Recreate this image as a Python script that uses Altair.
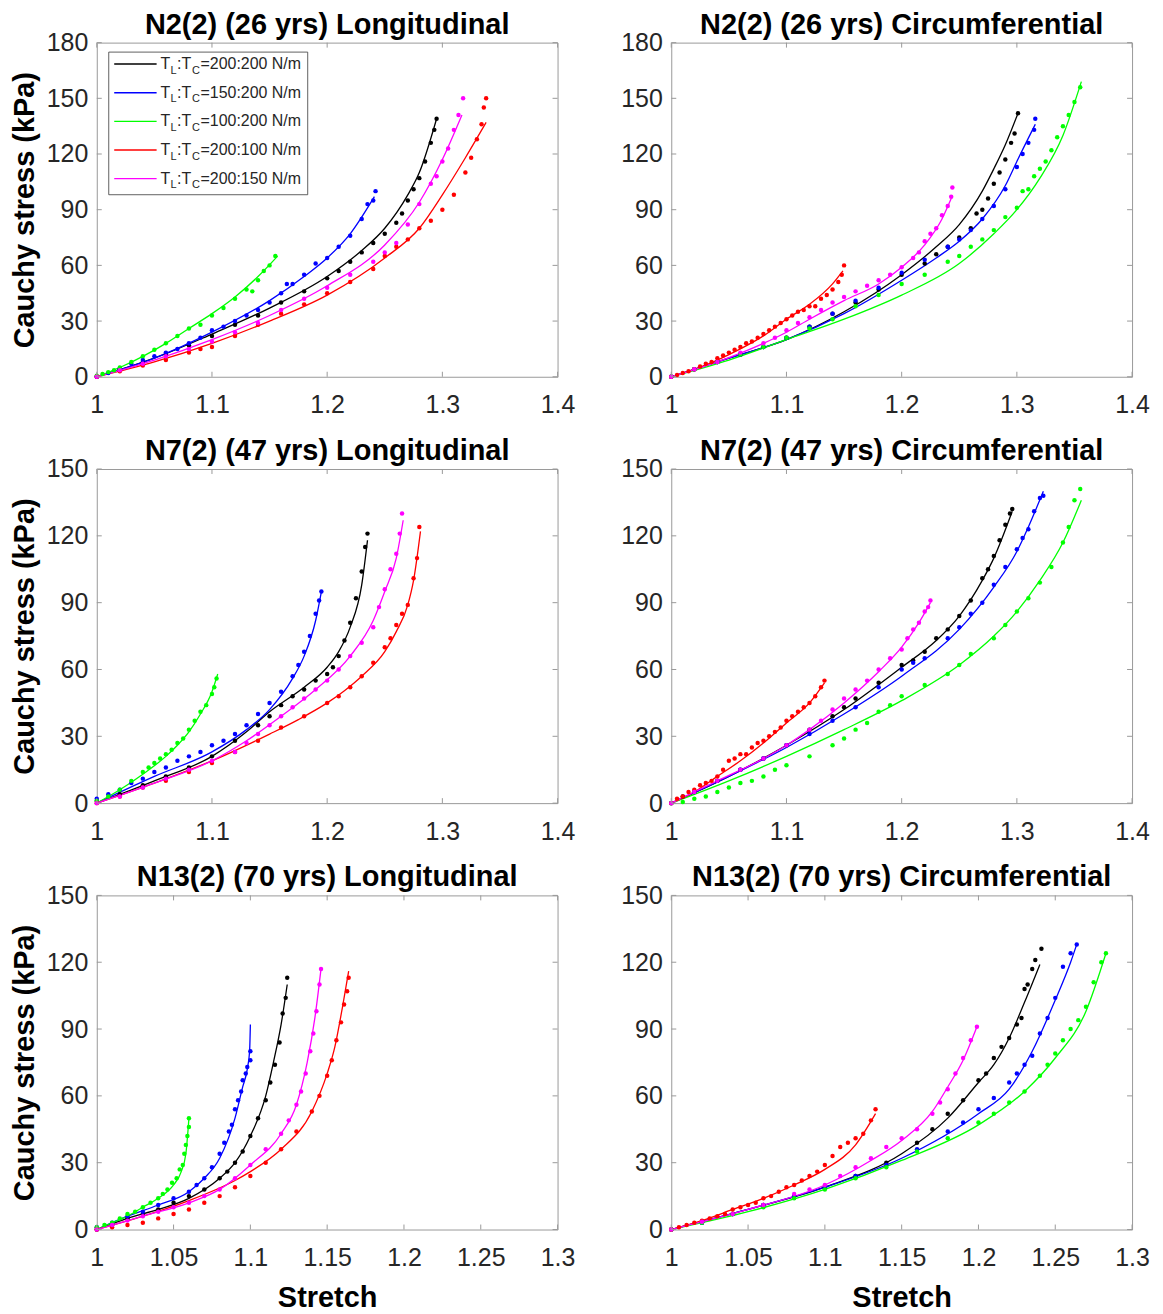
import altair as alt
import pandas as pd

# ---------------- categories, labels, ticks ----------------
SERIES = ["200:200", "150:200", "100:200", "200:100", "200:150"]
SERIES_COLORS = ["#000000", "#0000ff", "#00ff00", "#ff0000", "#ff00ff"]
PANEL_TITLES = [
    "N2(2) (26 yrs) Longitudinal", "N2(2) (26 yrs) Circumferential",
    "N7(2) (47 yrs) Longitudinal", "N7(2) (47 yrs) Circumferential",
    "N13(2) (70 yrs) Longitudinal", "N13(2) (70 yrs) Circumferential",
]
X_TICKS_WIDE = [1.0, 1.1, 1.2, 1.3, 1.4]
X_TICKS_NARROW = [1.0, 1.05, 1.1, 1.15, 1.2, 1.25, 1.3]
Y_TICKS_180 = [0, 30, 60, 90, 120, 150, 180]
Y_TICKS_150 = [0, 30, 60, 90, 120, 150]
Y_TITLE = "Cauchy stress (kPa)"
X_TITLE = "Stretch"

# ---------------- Panel A: N2 Longitudinal ----------------
A_BLK_LX = [1.0, 1.05, 1.10, 1.15, 1.20, 1.23, 1.25, 1.27, 1.28, 1.295]
A_BLK_LY = [0, 10, 23, 37, 54, 68, 80, 98, 110, 139]
A_BLK_DX = [1.0, 1.02, 1.04, 1.06, 1.08, 1.10, 1.12, 1.14, 1.16, 1.18, 1.20, 1.21, 1.22, 1.23, 1.24, 1.25, 1.26, 1.265, 1.27, 1.275, 1.28, 1.285, 1.29, 1.293, 1.295]
A_BLK_DY = [0, 4, 8, 12, 17, 22, 28, 33, 40, 46, 53, 57, 62, 67, 72, 77, 83, 88, 95, 101, 107, 116, 126, 133, 139]
A_BLU_LX = [1.0, 1.05, 1.10, 1.15, 1.18, 1.20, 1.22, 1.241]
A_BLU_LY = [0, 10, 24, 41, 54, 64, 77, 97]
A_BLU_DX = [1.0, 1.01, 1.02, 1.03, 1.04, 1.05, 1.06, 1.07, 1.08, 1.09, 1.10, 1.11, 1.12, 1.13, 1.14, 1.15, 1.16, 1.165, 1.17, 1.18, 1.19, 1.20, 1.21, 1.22, 1.23, 1.235, 1.24, 1.242]
A_BLU_DY = [0, 2, 4.5, 7, 9, 11, 13, 15, 18, 21, 25, 27, 30, 33, 36, 40, 45, 50, 50, 55, 61, 64, 70, 76, 85, 93, 95, 100]
A_GRN_LX = [1.0, 1.02, 1.04, 1.06, 1.08, 1.10, 1.12, 1.14, 1.157]
A_GRN_LY = [0, 5, 11, 18, 26, 34, 43, 54, 65]
A_GRN_DX = [1.0, 1.005, 1.01, 1.015, 1.02, 1.03, 1.04, 1.05, 1.06, 1.07, 1.08, 1.09, 1.10, 1.11, 1.12, 1.13, 1.135, 1.14, 1.145, 1.15, 1.155]
A_GRN_DY = [0.5, 1.5, 2.5, 3.5, 5, 8, 11, 14.5, 18, 22, 26, 28, 33, 37, 42, 47, 46, 52, 57, 60, 65]
A_RED_LX = [1.0, 1.05, 1.10, 1.15, 1.20, 1.25, 1.28, 1.30, 1.32, 1.338]
A_RED_LY = [0, 8, 18, 30, 44, 64, 80, 98, 118, 137]
A_RED_DX = [1.0, 1.02, 1.04, 1.06, 1.08, 1.09, 1.10, 1.12, 1.14, 1.16, 1.18, 1.20, 1.22, 1.24, 1.25, 1.26, 1.27, 1.28, 1.29, 1.30, 1.31, 1.32, 1.325, 1.33, 1.334, 1.336, 1.338]
A_RED_DY = [0, 3, 6, 9, 13, 15, 16, 22, 28, 34, 39, 45, 51, 58, 65, 70, 74, 80, 84, 90, 98, 110, 118, 128, 136, 145, 150]
A_MAG_LX = [1.0, 1.05, 1.10, 1.15, 1.20, 1.25, 1.28, 1.30, 1.317]
A_MAG_LY = [0, 9, 20, 33, 49, 71, 94, 117, 141]
A_MAG_DX = [1.0, 1.02, 1.04, 1.06, 1.08, 1.10, 1.12, 1.14, 1.16, 1.18, 1.20, 1.22, 1.24, 1.25, 1.26, 1.27, 1.28, 1.29, 1.295, 1.30, 1.305, 1.31, 1.314, 1.318]
A_MAG_DY = [0, 3.5, 7, 11, 15, 19, 24, 29, 36, 42, 48, 55, 62, 67, 72, 82, 93, 104, 108, 116, 123, 133, 141, 150]

# ---------------- Panel B: N2 Circumferential ----------------
B_BLK_LX = [1.0, 1.05, 1.10, 1.15, 1.20, 1.23, 1.25, 1.27, 1.28, 1.29, 1.301]
B_BLK_LY = [0, 10, 20, 35, 55, 70, 82, 100, 112, 125, 142]
B_BLK_DX = [1.0, 1.02, 1.04, 1.06, 1.08, 1.10, 1.12, 1.14, 1.16, 1.18, 1.20, 1.22, 1.23, 1.24, 1.25, 1.26, 1.265, 1.27, 1.275, 1.28, 1.285, 1.29, 1.295, 1.298, 1.301]
B_BLK_DY = [0, 4, 8, 12, 16, 21, 27, 34, 40, 47, 55, 61, 66, 70, 75, 80, 88, 90, 96, 104, 110, 117, 126, 131, 142]
B_BLU_LX = [1.0, 1.05, 1.10, 1.15, 1.20, 1.23, 1.25, 1.27, 1.29, 1.30, 1.316]
B_BLU_LY = [0, 10, 20, 34, 52, 64, 73, 85, 103, 116, 136]
B_BLU_DX = [1.0, 1.02, 1.04, 1.06, 1.08, 1.10, 1.12, 1.14, 1.16, 1.18, 1.20, 1.22, 1.24, 1.25, 1.26, 1.27, 1.28, 1.29, 1.30, 1.305, 1.31, 1.315, 1.316]
B_BLU_DY = [0, 4, 8, 12, 16, 21, 27, 34, 41, 48, 56, 63, 70, 74, 79, 85, 92, 101, 113, 120, 126, 133, 139]
B_GRN_LX = [1.0, 1.05, 1.10, 1.15, 1.20, 1.25, 1.28, 1.30, 1.32, 1.34, 1.356]
B_GRN_LY = [0, 9, 20, 31, 44, 61, 77, 90, 107, 130, 159]
B_GRN_DX = [1.0, 1.02, 1.04, 1.06, 1.08, 1.10, 1.12, 1.14, 1.16, 1.18, 1.20, 1.22, 1.24, 1.25, 1.26, 1.27, 1.28, 1.29, 1.30, 1.305, 1.31, 1.315, 1.32, 1.325, 1.33, 1.335, 1.34, 1.345, 1.35, 1.355]
B_GRN_DY = [0, 4, 8, 12, 16, 21, 26, 31, 38, 44, 50, 55, 62, 65, 70, 74, 79, 86, 91, 100, 101, 108, 112, 116, 122, 129, 135, 141, 148, 156]
B_RED_LX = [1.0, 1.02, 1.04, 1.06, 1.08, 1.10, 1.12, 1.14, 1.149]
B_RED_LY = [0, 4, 9, 15, 22, 31, 39, 50, 57]
B_RED_DX = [1.0, 1.005, 1.01, 1.015, 1.02, 1.025, 1.03, 1.035, 1.04, 1.045, 1.05, 1.055, 1.06, 1.065, 1.07, 1.075, 1.08, 1.085, 1.09, 1.095, 1.10, 1.105, 1.11, 1.115, 1.12, 1.125, 1.13, 1.135, 1.14, 1.145, 1.148, 1.15]
B_RED_DY = [0, 1, 2, 3, 4, 5.5, 7, 8, 10, 11.5, 13, 14.5, 16, 18, 19, 21, 23, 25, 27, 29, 31, 33, 35, 36, 38, 38, 42, 44, 47, 51, 55, 60]
B_MAG_LX = [1.0, 1.04, 1.08, 1.10, 1.12, 1.15, 1.18, 1.20, 1.22, 1.235, 1.243]
B_MAG_LY = [0, 8, 18, 24, 31, 41, 50, 59, 71, 85, 96]
B_MAG_DX = [1.0, 1.02, 1.04, 1.06, 1.08, 1.09, 1.10, 1.11, 1.12, 1.13, 1.14, 1.15, 1.16, 1.17, 1.18, 1.19, 1.20, 1.21, 1.215, 1.22, 1.225, 1.23, 1.235, 1.24, 1.243, 1.244]
B_MAG_DY = [0, 4, 8, 13, 18, 21, 25, 29, 32, 36, 40, 43, 46, 49, 52, 55, 59, 64, 67, 73, 77, 80, 87, 92, 97, 102]

# ---------------- Panel C: N7 Longitudinal ----------------
C_BLK_LX = [1.0, 1.05, 1.10, 1.13, 1.15, 1.18, 1.20, 1.21, 1.22, 1.23, 1.235]
C_BLK_LY = [0, 10, 21, 32, 41, 52, 61, 68, 79, 98, 118]
C_BLK_DX = [1.0, 1.02, 1.04, 1.06, 1.08, 1.10, 1.12, 1.14, 1.15, 1.16, 1.17, 1.18, 1.19, 1.20, 1.205, 1.21, 1.215, 1.22, 1.225, 1.23, 1.233, 1.235]
C_BLK_DY = [1, 4, 8, 12, 16, 21, 28, 35, 39, 44, 48, 51, 55, 58, 61, 66, 73, 81, 92, 104, 115, 121]
C_BLU_LX = [1.0, 1.05, 1.10, 1.13, 1.15, 1.17, 1.18, 1.19, 1.195]
C_BLU_LY = [0, 12, 23, 33, 42, 56, 66, 82, 95]
C_BLU_DX = [1.0, 1.01, 1.02, 1.03, 1.04, 1.05, 1.06, 1.07, 1.08, 1.09, 1.10, 1.11, 1.12, 1.13, 1.14, 1.15, 1.16, 1.17, 1.175, 1.18, 1.185, 1.19, 1.193, 1.195]
C_BLU_DY = [2, 4, 6, 9, 11, 14, 16, 19, 21, 23, 26, 28, 31, 35, 40, 45, 50, 57, 62, 68, 75, 85, 91, 95]
C_GRN_LX = [1.0, 1.02, 1.04, 1.06, 1.07, 1.08, 1.09, 1.10, 1.105]
C_GRN_LY = [0, 6, 13, 21, 26, 32, 40, 50, 58]
C_GRN_DX = [1.0, 1.01, 1.02, 1.03, 1.04, 1.045, 1.05, 1.055, 1.06, 1.065, 1.07, 1.075, 1.08, 1.085, 1.09, 1.095, 1.10, 1.102, 1.104]
C_GRN_DY = [1, 3, 6, 10, 14, 16, 18, 20, 22, 24, 27, 29, 33, 37, 41, 44, 49, 52, 56]
C_RED_LX = [1.0, 1.05, 1.10, 1.15, 1.175, 1.20, 1.215, 1.23, 1.25, 1.26, 1.27, 1.275, 1.281]
C_RED_LY = [0, 9, 19, 31, 37.5, 45, 50.5, 57, 68, 77, 89, 100, 122]
C_RED_DX = [1.0, 1.02, 1.04, 1.06, 1.08, 1.10, 1.12, 1.14, 1.16, 1.18, 1.20, 1.21, 1.22, 1.23, 1.24, 1.25, 1.255, 1.26, 1.265, 1.27, 1.275, 1.278, 1.28]
C_RED_DY = [0, 3, 7, 10, 14, 18, 23, 28, 34, 39, 45, 48, 52, 57, 63, 70, 74, 80, 85, 89, 101, 110, 124]
C_MAG_LX = [1.0, 1.05, 1.10, 1.13, 1.16, 1.19, 1.22, 1.24, 1.25, 1.26, 1.266]
C_MAG_LY = [0, 9, 19, 28, 39, 51, 66, 82, 95, 110, 127]
C_MAG_DX = [1.0, 1.02, 1.04, 1.06, 1.08, 1.10, 1.12, 1.13, 1.14, 1.15, 1.16, 1.17, 1.18, 1.19, 1.20, 1.21, 1.22, 1.23, 1.24, 1.245, 1.25, 1.255, 1.26, 1.263, 1.265]
C_MAG_DY = [0, 3, 7, 11, 15, 19, 23, 27, 31, 35, 39, 43, 47, 51, 55, 60, 66, 72, 79, 88, 96, 105, 112, 121, 130]

# ---------------- Panel D: N7 Circumferential ----------------
D_BLK_LX = [1.0, 1.05, 1.10, 1.15, 1.20, 1.23, 1.25, 1.27, 1.28, 1.296]
D_BLK_LY = [0, 12, 26, 42, 61, 73, 84, 100, 110, 131]
D_BLK_DX = [1.0, 1.01, 1.02, 1.04, 1.06, 1.08, 1.10, 1.12, 1.14, 1.15, 1.16, 1.18, 1.20, 1.21, 1.22, 1.23, 1.24, 1.25, 1.26, 1.27, 1.275, 1.28, 1.285, 1.29, 1.294, 1.296]
D_BLK_DY = [0, 3, 5, 10, 15, 20, 26, 33, 39, 43, 47, 54, 62, 64, 68, 74, 78, 84, 91, 101, 105, 111, 118, 125, 130, 132]
D_BLU_LX = [1.0, 1.05, 1.10, 1.15, 1.20, 1.25, 1.28, 1.30, 1.31, 1.323]
D_BLU_LY = [0, 12, 25, 40, 57, 78, 97, 113, 124, 140]
D_BLU_DX = [1.0, 1.02, 1.04, 1.06, 1.08, 1.10, 1.12, 1.14, 1.16, 1.18, 1.20, 1.21, 1.22, 1.24, 1.25, 1.26, 1.27, 1.28, 1.29, 1.30, 1.305, 1.31, 1.315, 1.32, 1.323]
D_BLU_DY = [0, 5, 10, 15, 20, 26, 31, 37, 43, 52, 60, 63, 65, 74, 79, 85, 90, 98, 106, 114, 119, 123, 131, 137, 138]
D_GRN_LX = [1.0, 1.05, 1.10, 1.15, 1.20, 1.25, 1.28, 1.30, 1.32, 1.34, 1.356]
D_GRN_LY = [0, 10, 21, 33, 46, 62, 75, 86, 100, 117, 136]
D_GRN_DX = [1.0, 1.01, 1.02, 1.03, 1.04, 1.05, 1.06, 1.07, 1.08, 1.09, 1.10, 1.12, 1.14, 1.15, 1.16, 1.17, 1.18, 1.19, 1.20, 1.22, 1.24, 1.25, 1.26, 1.28, 1.29, 1.30, 1.31, 1.32, 1.33, 1.34, 1.345, 1.35, 1.355]
D_GRN_DY = [0, 0.5, 2, 3, 5, 7, 9, 10, 12, 15, 17, 21, 26, 29, 33, 36, 41, 44, 48, 53, 58, 62, 67, 74, 80, 86, 92, 99, 106, 117, 124, 136, 141]
D_RED_LX = [1.0, 1.02, 1.04, 1.06, 1.08, 1.10, 1.12, 1.133]
D_RED_LY = [0, 5, 12, 19, 27, 36, 45, 54]
D_RED_DX = [1.0, 1.005, 1.01, 1.015, 1.02, 1.025, 1.03, 1.035, 1.04, 1.045, 1.05, 1.055, 1.06, 1.065, 1.07, 1.075, 1.08, 1.085, 1.09, 1.095, 1.10, 1.105, 1.11, 1.115, 1.12, 1.125, 1.13, 1.133]
D_RED_DY = [0, 2, 3, 5, 6, 8, 9, 10, 12, 15, 19, 20, 22, 22, 25, 27, 28, 30, 32, 34, 37, 39, 41, 43, 45, 48, 52, 55]
D_MAG_LX = [1.0, 1.04, 1.08, 1.10, 1.12, 1.15, 1.18, 1.20, 1.215, 1.225]
D_MAG_LY = [0, 10, 20, 26, 33, 45, 59, 70, 81, 90]
D_MAG_DX = [1.0, 1.02, 1.04, 1.06, 1.08, 1.10, 1.12, 1.13, 1.14, 1.15, 1.16, 1.17, 1.18, 1.19, 1.20, 1.205, 1.21, 1.215, 1.22, 1.223, 1.225]
D_MAG_DY = [0, 5, 10, 15, 20, 26, 33, 37, 42, 47, 51, 55, 60, 65, 69, 74, 78, 81, 86, 88, 91]

# ---------------- Panel E: N13 Longitudinal ----------------
E_BLK_LX = [1.0, 1.02, 1.04, 1.06, 1.08, 1.09, 1.10, 1.11, 1.115, 1.12, 1.124]
E_BLK_LY = [0, 5, 9, 14, 23, 30, 42, 60, 75, 92, 110]
E_BLK_DX = [1.0, 1.01, 1.02, 1.03, 1.04, 1.05, 1.06, 1.07, 1.08, 1.085, 1.09, 1.095, 1.1, 1.105, 1.11, 1.113, 1.116, 1.119, 1.121, 1.123, 1.124]
E_BLK_DY = [0, 2, 5, 7, 9, 12, 15, 18, 23, 26, 30, 35, 42, 50, 58, 66, 74, 84, 97, 104, 113]
E_BLU_LX = [1.0, 1.02, 1.04, 1.06, 1.07, 1.08, 1.09, 1.095, 1.098, 1.0995, 1.1]
E_BLU_LY = [0, 6, 11, 17, 23, 32, 50, 64, 72, 80, 92]
E_BLU_DX = [1.0, 1.01, 1.02, 1.03, 1.04, 1.05, 1.06, 1.065, 1.07, 1.075, 1.08, 1.083, 1.086, 1.088, 1.09, 1.092, 1.094, 1.095, 1.097, 1.098, 1.1, 1.1]
E_BLU_DY = [1, 3, 6, 8, 11, 14, 17, 20, 23, 28, 34, 39, 44, 47, 54, 58, 62, 67, 70, 73, 76, 80]
E_GRN_LX = [1.0, 1.01, 1.02, 1.03, 1.04, 1.05, 1.055, 1.058, 1.06]
E_GRN_LY = [0, 3, 6, 10, 14, 20, 26, 34, 50]
E_GRN_DX = [1.0, 1.005, 1.01, 1.015, 1.02, 1.025, 1.03, 1.035, 1.04, 1.043, 1.046, 1.049, 1.052, 1.054, 1.056, 1.057, 1.058, 1.059, 1.06, 1.06]
E_GRN_DY = [1, 2, 3, 5, 7, 8, 10, 12, 14, 16, 18, 21, 23, 27, 29, 34, 38, 42, 46, 50]
E_RED_LX = [1.0, 1.03, 1.06, 1.09, 1.10, 1.12, 1.14, 1.15, 1.155, 1.16, 1.164]
E_RED_LY = [0, 6, 13, 22, 26, 36, 53, 70, 82, 100, 116]
E_RED_DX = [1.0, 1.01, 1.02, 1.03, 1.04, 1.05, 1.06, 1.07, 1.08, 1.09, 1.10, 1.11, 1.12, 1.13, 1.14, 1.145, 1.15, 1.153, 1.156, 1.159, 1.161, 1.163, 1.164]
E_RED_DY = [0, 1, 2, 3, 5, 7, 9, 12, 15, 19, 24, 30, 36, 44, 53, 60, 69, 76, 85, 93, 101, 107, 113]
E_MAG_LX = [1.0, 1.03, 1.06, 1.08, 1.10, 1.12, 1.13, 1.137, 1.142, 1.146]
E_MAG_LY = [0, 6, 12, 18, 29, 43, 56, 75, 95, 117]
E_MAG_DX = [1.0, 1.01, 1.02, 1.03, 1.04, 1.05, 1.06, 1.07, 1.08, 1.09, 1.1, 1.11, 1.12, 1.125, 1.13, 1.133, 1.136, 1.139, 1.141, 1.143, 1.145, 1.146]
E_MAG_DY = [0, 2, 4, 6, 8, 10, 12, 15, 18, 23, 29, 36, 43, 49, 56, 62, 70, 80, 88, 98, 110, 117]

# ---------------- Panel F: N13 Circumferential ----------------
F_BLK_LX = [1.0, 1.05, 1.10, 1.15, 1.18, 1.20, 1.21, 1.22, 1.23, 1.24]
F_BLK_LY = [0, 9, 19, 34, 50, 66, 74, 86, 102, 119]
F_BLK_DX = [1.0, 1.02, 1.04, 1.06, 1.08, 1.10, 1.12, 1.14, 1.16, 1.17, 1.18, 1.19, 1.20, 1.205, 1.21, 1.215, 1.22, 1.225, 1.228, 1.23, 1.232, 1.235, 1.237, 1.241]
F_BLK_DY = [0, 3, 7, 11, 15, 19, 24, 30, 39, 45, 52, 58, 67, 70, 77, 82, 86, 92, 95, 108, 110, 117, 121, 126]
F_BLU_LX = [1.0, 1.05, 1.10, 1.15, 1.20, 1.22, 1.235, 1.25, 1.26, 1.264]
F_BLU_LY = [0, 9, 19, 32, 52, 63, 80, 103, 120, 128]
F_BLU_DX = [1.0, 1.02, 1.04, 1.06, 1.08, 1.10, 1.12, 1.14, 1.16, 1.18, 1.19, 1.20, 1.21, 1.22, 1.225, 1.23, 1.235, 1.24, 1.245, 1.25, 1.255, 1.26, 1.264]
F_BLU_DY = [0, 3, 7, 11, 15, 19, 24, 29, 36, 44, 48, 54, 59, 66, 70, 74, 78, 88, 95, 104, 118, 124, 128]
F_GRN_LX = [1.0, 1.05, 1.10, 1.15, 1.20, 1.23, 1.25, 1.27, 1.283]
F_GRN_LY = [0, 8, 18, 31, 47, 62, 77, 98, 124]
F_GRN_DX = [1.0, 1.02, 1.04, 1.06, 1.08, 1.10, 1.12, 1.14, 1.16, 1.18, 1.20, 1.21, 1.22, 1.23, 1.24, 1.245, 1.25, 1.255, 1.26, 1.265, 1.27, 1.275, 1.28, 1.283]
F_GRN_DY = [0, 3, 7, 10, 14, 18, 23, 28, 35, 41, 48, 52, 57, 62, 69, 74, 79, 85, 90, 94, 100, 111, 120, 124]
F_RED_LX = [1.0, 1.02, 1.04, 1.06, 1.08, 1.10, 1.12, 1.133]
F_RED_LY = [0, 4, 9, 14, 20, 27, 38, 52]
F_RED_DX = [1.0, 1.005, 1.01, 1.015, 1.02, 1.025, 1.03, 1.035, 1.04, 1.045, 1.05, 1.055, 1.06, 1.065, 1.07, 1.075, 1.08, 1.085, 1.09, 1.095, 1.10, 1.105, 1.11, 1.115, 1.12, 1.125, 1.13, 1.133]
F_RED_DY = [0, 1, 2, 3, 4, 5, 6, 7, 9, 10, 11, 12, 14, 15, 17, 19, 20, 22, 24, 26, 29, 33, 37, 39, 41, 43, 49, 54]
F_MAG_LX = [1.0, 1.05, 1.10, 1.13, 1.15, 1.17, 1.18, 1.19, 1.199]
F_MAG_LY = [0, 9, 20, 31, 40, 53, 64, 76, 91]
F_MAG_DX = [1.0, 1.02, 1.04, 1.06, 1.08, 1.09, 1.10, 1.11, 1.12, 1.13, 1.14, 1.15, 1.16, 1.17, 1.175, 1.18, 1.185, 1.19, 1.195, 1.199]
F_MAG_DY = [0, 3.5, 7, 11, 16, 18, 20, 24, 28, 32, 37, 41, 45, 52, 57, 63, 70, 77, 85, 91]

# ---------------- assemble tables ----------------
PANEL_SERIES = {
    "A": [(A_BLK_LX, A_BLK_LY, A_BLK_DX, A_BLK_DY), (A_BLU_LX, A_BLU_LY, A_BLU_DX, A_BLU_DY),
          (A_GRN_LX, A_GRN_LY, A_GRN_DX, A_GRN_DY), (A_RED_LX, A_RED_LY, A_RED_DX, A_RED_DY),
          (A_MAG_LX, A_MAG_LY, A_MAG_DX, A_MAG_DY)],
    "B": [(B_BLK_LX, B_BLK_LY, B_BLK_DX, B_BLK_DY), (B_BLU_LX, B_BLU_LY, B_BLU_DX, B_BLU_DY),
          (B_GRN_LX, B_GRN_LY, B_GRN_DX, B_GRN_DY), (B_RED_LX, B_RED_LY, B_RED_DX, B_RED_DY),
          (B_MAG_LX, B_MAG_LY, B_MAG_DX, B_MAG_DY)],
    "C": [(C_BLK_LX, C_BLK_LY, C_BLK_DX, C_BLK_DY), (C_BLU_LX, C_BLU_LY, C_BLU_DX, C_BLU_DY),
          (C_GRN_LX, C_GRN_LY, C_GRN_DX, C_GRN_DY), (C_RED_LX, C_RED_LY, C_RED_DX, C_RED_DY),
          (C_MAG_LX, C_MAG_LY, C_MAG_DX, C_MAG_DY)],
    "D": [(D_BLK_LX, D_BLK_LY, D_BLK_DX, D_BLK_DY), (D_BLU_LX, D_BLU_LY, D_BLU_DX, D_BLU_DY),
          (D_GRN_LX, D_GRN_LY, D_GRN_DX, D_GRN_DY), (D_RED_LX, D_RED_LY, D_RED_DX, D_RED_DY),
          (D_MAG_LX, D_MAG_LY, D_MAG_DX, D_MAG_DY)],
    "E": [(E_BLK_LX, E_BLK_LY, E_BLK_DX, E_BLK_DY), (E_BLU_LX, E_BLU_LY, E_BLU_DX, E_BLU_DY),
          (E_GRN_LX, E_GRN_LY, E_GRN_DX, E_GRN_DY), (E_RED_LX, E_RED_LY, E_RED_DX, E_RED_DY),
          (E_MAG_LX, E_MAG_LY, E_MAG_DX, E_MAG_DY)],
    "F": [(F_BLK_LX, F_BLK_LY, F_BLK_DX, F_BLK_DY), (F_BLU_LX, F_BLU_LY, F_BLU_DX, F_BLU_DY),
          (F_GRN_LX, F_GRN_LY, F_GRN_DX, F_GRN_DY), (F_RED_LX, F_RED_LY, F_RED_DX, F_RED_DY),
          (F_MAG_LX, F_MAG_LY, F_MAG_DX, F_MAG_DY)],
}


def tables(pid):
    lines, dots = [], []
    for s, (lx, ly, dx, dy) in zip(SERIES, PANEL_SERIES[pid]):
        for x, y in zip(lx, ly):
            lines.append({"series": s, "x": x, "y": y})
        for x, y in zip(dx, dy):
            dots.append({"series": s, "x": x, "y": y})
    return pd.DataFrame(lines), pd.DataFrame(dots)


# ---------------- style ----------------
FONT = "Liberation Sans"
W, H = 462, 335
TICK = 5
FRAME = "#9a9a9a"

# legend layout (pixels inside panel A)
LEG_Y = [21.5, 50.2, 79.0, 107.7, 136.4]


def legend_layers(color):
    one = pd.DataFrame({"k": [0]})
    box = alt.Chart(one).mark_rect(fill="white", stroke="#3a3a3a", strokeWidth=0.8).encode(
        x=alt.value(12), x2=alt.value(211.5), y=alt.value(9.5), y2=alt.value(152.5))
    leg = pd.DataFrame({"series": SERIES, "py": LEG_Y})
    rules = alt.Chart(leg).mark_rule(strokeWidth=1.4).encode(
        y=alt.Y("py:Q", scale=None), x=alt.value(17.5), x2=alt.value(60), color=color)
    main_rows, sub_rows = [], []
    for s, py in zip(SERIES, LEG_Y):
        main_rows += [{"px": 64, "py": py, "t": "T"},
                      {"px": 80.5, "py": py, "t": ":T"},
                      {"px": 104, "py": py, "t": "=" + s + " N/m"}]
        sub_rows += [{"px": 74, "py": py + 6.5, "t": "L"},
                     {"px": 95.5, "py": py + 6.5, "t": "C"}]
    main = alt.Chart(pd.DataFrame(main_rows)).mark_text(
        align="left", baseline="middle", font=FONT, fontSize=16, color="#262626").encode(
        x=alt.X("px:Q", scale=None), y=alt.Y("py:Q", scale=None), text="t:N")
    sub = alt.Chart(pd.DataFrame(sub_rows)).mark_text(
        align="left", baseline="middle", font=FONT, fontSize=11, color="#262626").encode(
        x=alt.X("px:Q", scale=None), y=alt.Y("py:Q", scale=None), text="t:N")
    return [box, rules, main, sub]


def panel(pid, title, x_max, x_ticks, y_max, y_ticks, y_title, x_title, with_legend=False):
    lines, dots = tables(pid)
    xs = alt.Scale(domain=[1.0, x_max], nice=False, zero=False)
    ys = alt.Scale(domain=[0, y_max], nice=False, zero=False)
    color = alt.Color("series:N", scale=alt.Scale(domain=SERIES, range=SERIES_COLORS), legend=None)
    x_axis = alt.Axis(values=x_ticks, format="~g", labelFlush=False, labelPadding=16, title=x_title)
    y_axis = alt.Axis(values=y_ticks, labelFlush=False, labelPadding=9, title=y_title)

    line_layer = alt.Chart(lines).mark_line(strokeWidth=1.3, interpolate="monotone").encode(
        x=alt.X("x:Q", scale=xs, axis=x_axis),
        y=alt.Y("y:Q", scale=ys, axis=y_axis),
        color=color)
    dot_layer = alt.Chart(dots).mark_circle(size=20, opacity=1).encode(
        x=alt.X("x:Q", scale=xs, axis=x_axis),
        y=alt.Y("y:Q", scale=ys, axis=y_axis),
        color=color)

    xt = pd.DataFrame({"x": x_ticks})
    yt = pd.DataFrame({"y": y_ticks})
    tick_style = dict(color=FRAME, strokeWidth=1)
    bottom = alt.Chart(xt).mark_rule(**tick_style).encode(
        x=alt.X("x:Q", scale=xs, axis=x_axis), y=alt.value(H), y2=alt.value(H - TICK))
    top = alt.Chart(xt).mark_rule(**tick_style).encode(
        x=alt.X("x:Q", scale=xs, axis=x_axis), y=alt.value(0), y2=alt.value(TICK))
    left = alt.Chart(yt).mark_rule(**tick_style).encode(
        y=alt.Y("y:Q", scale=ys, axis=y_axis), x=alt.value(0), x2=alt.value(TICK))
    right = alt.Chart(yt).mark_rule(**tick_style).encode(
        y=alt.Y("y:Q", scale=ys, axis=y_axis), x=alt.value(W - TICK), x2=alt.value(W))

    layers = [line_layer, dot_layer, bottom, top, left, right]
    if with_legend:
        layers += legend_layers(color)
    return alt.layer(*layers).properties(width=W, height=H, title=title)


pA = panel("A", PANEL_TITLES[0], 1.4, X_TICKS_WIDE, 180, Y_TICKS_180, Y_TITLE, None, with_legend=True)
pB = panel("B", PANEL_TITLES[1], 1.4, X_TICKS_WIDE, 180, Y_TICKS_180, None, None)
pC = panel("C", PANEL_TITLES[2], 1.4, X_TICKS_WIDE, 150, Y_TICKS_150, Y_TITLE, None)
pD = panel("D", PANEL_TITLES[3], 1.4, X_TICKS_WIDE, 150, Y_TICKS_150, None, None)
pE = panel("E", PANEL_TITLES[4], 1.3, X_TICKS_NARROW, 150, Y_TICKS_150, Y_TITLE, X_TITLE)
pF = panel("F", PANEL_TITLES[5], 1.3, X_TICKS_NARROW, 150, Y_TICKS_150, None, X_TITLE)

rows = [alt.hconcat(a, b, spacing=44) for a, b in [(pA, pB), (pC, pD), (pE, pF)]]

chart = (
    alt.vconcat(*rows, spacing=17.5)
    .properties(padding={"left": 1, "top": 0, "right": 5, "bottom": 5})
    .configure_view(stroke=FRAME, strokeWidth=1)
    .configure_axis(grid=False, ticks=False, domain=False, labelFont=FONT, labelFontSize=25,
                    labelColor="#262626", titleFont=FONT, titleFontSize=29, titleFontWeight="bold",
                    titleColor="#000000")
    .configure_axisX(titlePadding=13)
    .configure_axisY(titlePadding=7)
    .configure_title(font=FONT, fontSize=29, fontWeight="bold", color="#000000", offset=-9,
                     anchor="middle")
)

chart.save("out.html", embed_options={"renderer": "svg", "actions": False})
